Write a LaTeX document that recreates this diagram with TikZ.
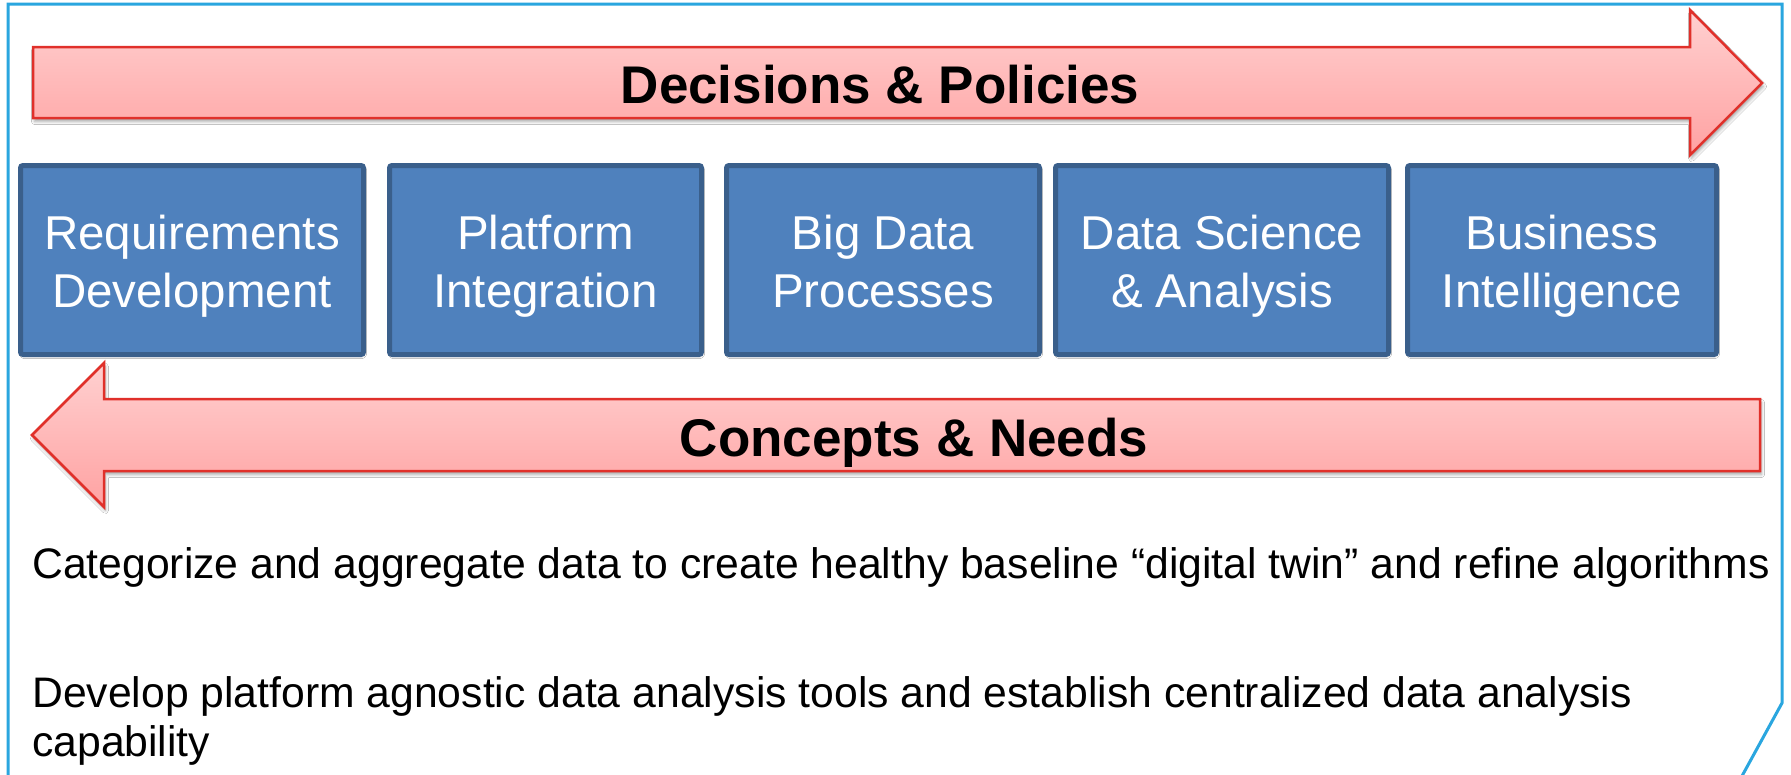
\documentclass[tikz,border=0pt]{standalone}
\usepackage{fontspec}
\setmainfont{Liberation Sans}
\usetikzlibrary{shadows.blur}
\definecolor{frameblue}{HTML}{2AA6DF}
\definecolor{arrowred}{HTML}{E0302A}
\definecolor{pinktop}{HTML}{FFD0D0}
\definecolor{pinkbot}{HTML}{FFA2A2}
\definecolor{boxfill}{HTML}{4F81BD}
\definecolor{boxline}{HTML}{3A5F8B}
\begin{document}
\begin{tikzpicture}[x=1pt,y=-1pt,
  frame/.style={draw=frameblue,line width=3pt},
  bigarrow/.style={draw=arrowred,line width=2.5pt,line join=miter,top color=pinktop,bottom color=pinkbot,
    blur shadow={shadow xshift=1.5pt,shadow yshift=-3.5pt,shadow blur radius=3pt,shadow opacity=35}},
  hdr/.style={font=\fontsize{53}{63}\selectfont\bfseries,text=black,inner sep=0pt},
  blk/.style={draw=boxline,fill=boxfill,line width=5pt,rounded corners=2.5pt,minimum height=189pt,inner sep=0pt,
    blur shadow={shadow xshift=1pt,shadow yshift=-2pt,shadow blur radius=2pt,shadow opacity=25}},
  blktxt/.style={font=\fontsize{47.5}{58}\selectfont,text=white,align=center,inner sep=0pt},
  body/.style={font=\fontsize{42.7}{49}\selectfont,text=black,align=left,inner sep=0pt}]
\useasboundingbox (0,0) rectangle (1791,774);
\fill[white] (0,0) rectangle (1791,774);
% frame
\draw[frame] (8,776) -- (8,4) -- (1782,4) -- (1782,703) -- (1742,776);
% top arrow
\draw[bigarrow] (33,47) -- (1690,47) -- (1690,10) -- (1762,83) -- (1690,155) -- (1690,118) -- (33,118) -- cycle;
\node[hdr,anchor=base] (dp) at (880,103) {Decisions \& Policies};
% bottom arrow
\draw[bigarrow] (1760,399) -- (104,399) -- (104,363) -- (32,435) -- (104,507) -- (104,471) -- (1760,471) -- cycle;
\node[hdr,anchor=base] (cn) at (914,456) {Concepts \& Needs};
% boxes
\node[blk,minimum width=343pt] (b1) at (192,260) {};
\node[blk,minimum width=312pt] (b2) at (545.5,260) {};
\node[blk,minimum width=313pt] (b3) at (883,260) {};
\node[blk,minimum width=333pt] (b4) at (1222,260) {};
\node[blk,minimum width=309pt] (b5) at (1562,260) {};
\node[blktxt] (t1) at (192,266.4) {\strut Requirements\\\strut Development};
\node[blktxt] (t2) at (545.5,266.4) {\strut Platform\\\strut Integration};
\node[blktxt] (t3) at (883,266.4) {\strut Big Data\\\strut Processes};
\node[blktxt] (t4) at (1222,266.4) {\strut Data Science\\\strut \& Analysis};
\node[blktxt] (t5) at (1562,266.4) {\strut Business\\\strut Intelligence};
% body text
\node[body,anchor=base west] (p1) at (32,578) {Categorize and aggregate data to create healthy baseline “digital twin” and refine algorithms};
\node[body,anchor=north west] (p2) at (32,672.7) {\strut Develop platform agnostic data analysis tools and establish centralized data analysis\\\strut capability};
\end{tikzpicture}
\end{document}
